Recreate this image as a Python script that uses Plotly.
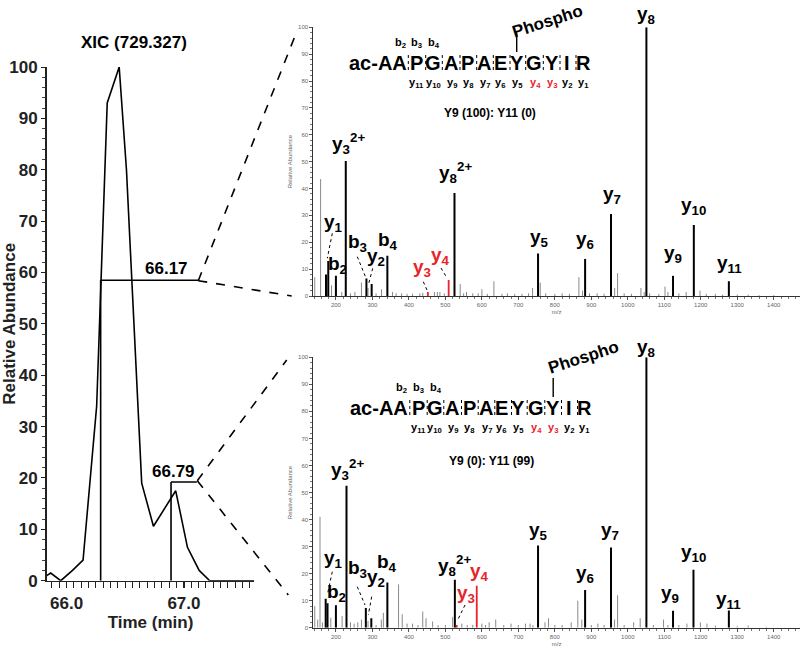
import plotly.graph_objects as go

W, H = 800, 648
FONT = "Liberation Sans, Arial, sans-serif"

# ---------------- data ----------------
xic_time = [65.83, 65.864, 65.95, 66.05, 66.14, 66.256, 66.346, 66.448, 66.51, 66.64, 66.74,
            66.835, 66.93, 67.03, 67.13, 67.22, 67.32, 67.42, 67.52, 67.60]
xic_abund = [1, 1.5, 0, 2, 4, 34, 93, 100, 80, 19, 10.6, 14, 17.5, 6.5, 2, 0, 0, 0, 0, 0]

rt1_time, rt1_level, rt1_end = 66.29, 58.5, 67.13
rt2_time, rt2_level, rt2_end = 66.89, 19.2, 67.11
rt1_label, rt2_label = "66.17", "66.79"

top_major_mz = [172.8, 179, 200, 227, 283.6, 298, 341, 525, 754, 883, 954, 1051, 1124, 1181, 1277]
top_major_val = [8, 13, 7.5, 50.2, 6.5, 4.5, 15, 38.3, 15.8, 13.8, 30.5, 100, 7.5, 26.4, 5.5]
top_red_mz = [452, 509]
top_red_val = [1.5, 6]
top_minor_mz = [142, 158, 188, 216, 240, 252, 270, 288, 310, 325, 355, 365, 380, 395, 410, 430,
                438, 470, 478, 485, 497, 540.6, 550, 558, 575, 590, 600, 615, 633, 655, 670, 690,
                710, 728, 739, 760, 775, 800, 820, 840, 866, 876, 895, 916, 935, 964, 972, 990,
                1010, 1036, 1045, 1060, 1085, 1102, 1110, 1140, 1160, 1198, 1215, 1240, 1260,
                1300, 1330, 1360, 1400]
top_minor_val = [7, 43.5, 4, 1.5, 1, 1.5, 5, 3, 1, 2.5, 1.5, 1, 1, 0.8, 0.8, 1,
                 1.2, 1.5, 1.5, 1.5, 1, 4.5, 1, 1.5, 1, 1, 2.5, 0.8, 5.5, 0.8, 1, 0.8,
                 0.8, 1, 3, 5, 1, 0.8, 1, 0.8, 7, 2, 1, 1, 0.8, 3, 8.5, 1,
                 0.8, 3, 1.5, 1, 0.8, 3.5, 1.5, 1, 1.5, 2, 0.8, 0.8, 0.5,
                 0.5, 0.5, 0.3, 0.3]

bot_major_mz = [172, 177, 200, 229, 282, 297, 341, 526, 754, 883, 954, 1051, 1124, 1180, 1277]
bot_major_val = [10.7, 9, 8.3, 52.5, 7.3, 3.5, 16.7, 17.7, 30.4, 13.9, 29.7, 100, 6.3, 21.4, 6.4]
bot_red_mz = [531, 586]
bot_red_val = [1, 15.5]
bot_minor_mz = [142, 150, 156.4, 163, 186, 217, 240, 250, 260, 270, 288, 310, 324.5, 330, 371.7,
                381.7, 395, 410, 425, 438, 447, 465, 480, 500, 520, 545, 560, 575, 600, 610, 620,
                638, 660, 680, 700, 719.5, 732, 740, 773, 782.6, 800, 820, 845, 863, 874, 900,
                918, 935, 963.7, 972, 990, 1016, 1034, 1070, 1098, 1110, 1140, 1162, 1199, 1217,
                1240, 1300, 1330, 1380]
bot_minor_val = [8, 3, 41, 2, 3.7, 4.3, 2, 1.5, 2, 3, 2.5, 1, 3, 5.5, 16,
                 5, 1.5, 1.5, 1, 6, 3.5, 2.3, 1, 1, 4, 1.5, 1, 1, 1.5, 1, 2,
                 3, 1, 1.5, 1, 1.5, 1.5, 1, 2, 3.5, 1, 1, 2, 10, 3, 1,
                 1.5, 1, 3, 12, 1, 2, 3.5, 1, 3, 1, 1, 1.5, 2, 1.5,
                 0.8, 0.5, 0.8, 0.3]

residues = ["ac-AA", "P", "G", "A", "P", "A", "E", "Y", "G", "Y", "I", "R"]
y_ions = ["11", "10", "9", "8", "7", "6", "5", "4", "3", "2", "1"]
red_y_ions = ["4", "3"]
b_ions = ["2", "3", "4"]
ratio_top = "Y9 (100): Y11 (0)"
ratio_bot = "Y9 (0): Y11 (99)"

# ---------------- helpers ----------------
def P(x, y):
    return x / W, 1 - y / H

def stems(mz, vals):
    xs, ys = [], []
    for m, v in zip(mz, vals):
        xs += [m, m, None]
        ys += [0, v, None]
    return xs, ys

fig = go.Figure()

# XIC
fig.add_trace(go.Scatter(x=xic_time, y=xic_abund, mode="lines",
                         line=dict(color="black", width=1.6), xaxis="x", yaxis="y",
                         showlegend=False, hoverinfo="skip"))

for (mz, vals, col, wd, ax) in [
    (top_minor_mz, top_minor_val, "#8a8a8a", 1.0, ("x2", "y2")),
    (top_major_mz, top_major_val, "black", 2.0, ("x2", "y2")),
    (top_red_mz, top_red_val, "#e8232a", 1.8, ("x2", "y2")),
    (bot_minor_mz, bot_minor_val, "#8a8a8a", 1.0, ("x3", "y3")),
    (bot_major_mz, bot_major_val, "black", 2.0, ("x3", "y3")),
    (bot_red_mz, bot_red_val, "#e8232a", 1.8, ("x3", "y3")),
]:
    xs, ys = stems(mz, vals)
    fig.add_trace(go.Scatter(x=xs, y=ys, mode="lines", line=dict(color=col, width=wd),
                             xaxis=ax[0], yaxis=ax[1], showlegend=False, hoverinfo="skip",
                             connectgaps=False))

shapes = []
# XIC retention markers (data coords)
for t, lev, end in [(rt1_time, rt1_level, rt1_end), (rt2_time, rt2_level, rt2_end)]:
    shapes.append(dict(type="line", xref="x", yref="y", x0=t, x1=t, y0=0, y1=lev,
                       line=dict(color="black", width=1.6)))
    shapes.append(dict(type="line", xref="x", yref="y", x0=t, x1=end, y0=lev, y1=lev,
                       line=dict(color="black", width=1.6)))

def pline(x0, y0, x1, y1, dash="solid", width=1.0, color="black"):
    a = P(x0, y0); b = P(x1, y1)
    shapes.append(dict(type="line", xref="paper", yref="paper", x0=a[0], y0=a[1],
                       x1=b[0], y1=b[1], line=dict(color=color, width=width, dash=dash)))

# zoom connectors
pline(198.3, 280.7, 296.7, 31.7, "dash", 1.6)
pline(198.3, 280.7, 291.7, 296, "dash", 1.6)
pline(197.3, 480.7, 286.7, 360, "dash", 1.6)
pline(197.3, 480.7, 288.3, 595, "dash", 1.6)

annotations = []

def txt(x, y, s, size=17, color="black", bold=True, angle=0, xanchor="center"):
    px, py = P(x, y)
    annotations.append(dict(x=px, y=py, xref="paper", yref="paper", text=("<b>%s</b>" % s) if bold else s,
                            showarrow=False, font=dict(family=FONT, size=size, color=color),
                            textangle=angle, xanchor=xanchor, yanchor="middle"))

# XIC texts
txt(133.5, 42.5, "XIC (729.327)", 17)
txt(166, 268, rt1_label, 17)
txt(173, 471, rt2_label, 17)

RED = "#e8232a"

def peptide(dx, ybase, phospho_idx, phospho_xy):
    res_x = [377.5, 416.7, 433.3, 450.7, 467.7, 484, 500, 516.7, 534.3, 551.7, 567.3, 583.3]
    for r, x in zip(residues, res_x):
        txt(x + dx, ybase, r, 20)
    sep_x = [408.3, 425.7, 442.3, 460, 476.7, 493.3, 510, 525.7, 543.3, 560, 576]
    for sx in sep_x:
        pline(sx + dx, ybase - 8, sx + dx, ybase + 9, "dot", 1.0)
    bx = [400, 416.7, 434]
    for b, x in zip(b_ions, bx):
        txt(x + dx, ybase - 20, "b<sub>%s</sub>" % b, 11)
    yx = [416.7, 433.3, 451.7, 468.3, 485, 500, 517.3, 535, 551.7, 567.3, 583.3]
    for yi, x in zip(y_ions, yx):
        col = RED if yi in red_y_ions else "black"
        txt(x + dx, ybase + 20, "y<sub>%s</sub>" % yi, 11, color=col)
    lx = res_x[phospho_idx] + dx
    pline(lx, ybase - 30, lx, ybase - 11, "solid", 1.4)
    txt(phospho_xy[0], phospho_xy[1], "Phospho", 17, angle=-18)

peptide(0, 63, 7, (547, 21))
peptide(1.5, 408, 9, (583, 357))
txt(490, 113, ratio_top, 12)
txt(491.7, 461, ratio_bot, 12)

def ion(x, y, name, sub, sup=None, color="black"):
    s = "%s<sub>%s</sub>" % (name, sub)
    if sup:
        s += "<sup>%s</sup>" % sup
    txt(x, y, s, 19, color=color)

# top labels
ion(646, 15, "y", "8")
ion(348, 143, "y", "3", "2+")
ion(456, 172, "y", "8", "2+")
ion(333, 223, "y", "1")
ion(337, 265, "b", "2")
ion(357, 243, "b", "3")
ion(376, 257, "y", "2")
ion(388, 241, "b", "4")
ion(422, 268, "y", "3", color=RED)
ion(440, 256, "y", "4", color=RED)
ion(539, 238, "y", "5")
ion(585, 240, "y", "6")
ion(612, 195, "y", "7")
ion(673, 254, "y", "9")
ion(693, 206, "y", "10")
ion(729, 264, "y", "11")
pline(332.3, 233.3, 327.3, 258.3, "dot", 1)
pline(357.3, 256.7, 365.7, 277.3, "dot", 1)
pline(372.7, 268.3, 368.3, 285, "dot", 1)
pline(423.3, 281.7, 427.7, 291.7, "dot", 1)
pline(441, 268, 447, 278, "dot", 1)

# bottom labels
ion(646, 348, "y", "8")
ion(347, 469, "y", "3", "2+")
ion(454, 565, "y", "8", "2+")
ion(333, 559, "y", "1")
ion(336, 593, "b", "2")
ion(357, 569, "b", "3")
ion(376, 578, "y", "2")
ion(387, 563, "b", "4")
ion(479, 572, "y", "4", color=RED)
ion(466, 594, "y", "3", color=RED)
ion(538, 531, "y", "5")
ion(585, 574, "y", "6")
ion(610, 531, "y", "7")
ion(670, 594, "y", "9")
ion(693, 553, "y", "10")
ion(728, 600, "y", "11")
pline(332.3, 571.7, 327.3, 595, "dot", 1)
pline(357.3, 586.7, 365, 605, "dot", 1)
pline(371.7, 596.7, 368.3, 615, "dot", 1)
pline(465, 605, 457.7, 620, "dot", 1)

bold17 = dict(family=FONT, size=17, color="#222", weight="bold")
small = dict(family=FONT, size=6, color="#666")

spec_x = dict(range=[138, 1472], showline=True, linecolor="#333", linewidth=1, ticks="outside",
              ticklen=3, tickcolor="#555", dtick=100, tick0=0, tickfont=small, showgrid=False,
              zeroline=False, automargin=False,
              minor=dict(dtick=20, ticklen=2, ticks="outside", tickcolor="#777"),
              title=dict(text="m/z", font=small, standoff=2))
spec_y = dict(range=[0, 100], showline=True, linecolor="#333", linewidth=1, ticks="outside",
              ticklen=3, tickcolor="#555", dtick=10, tickfont=small, showgrid=False, zeroline=False,
              automargin=False,
              minor=dict(dtick=2, ticklen=2, ticks="outside", tickcolor="#777"),
              title=dict(text="Relative Abundance", font=small, standoff=4))

fig.update_layout(
    template="none",
    width=W, height=H, autosize=False, margin=dict(l=0, r=0, t=0, b=0, pad=0),
    paper_bgcolor="white", plot_bgcolor="white", showlegend=False,
    xaxis=dict(domain=[46.7 / W, 254.3 / W], range=[65.83, 67.60], showline=True, linecolor="#222",
               linewidth=1.6, ticks="outside", ticklen=6, tickwidth=1.2, tickcolor="#222",
               tickvals=[66.0, 67.0], ticktext=["66.0", "67.0"], tickfont=bold17,
               minor=dict(tickvals=[65.8125 + 0.0625 * i for i in range(1, 29)], ticklen=6,
                          ticks="outside", tickcolor="#222", tickwidth=1),
               showgrid=False, zeroline=False, automargin=False,
               title=dict(text="Time (min)", font=bold17, standoff=4), anchor="y"),
    yaxis=dict(domain=[1 - 580.7 / H, 1 - 67 / H], range=[0, 100], showline=True, linecolor="#222",
               linewidth=1.6, ticks="outside", ticklen=4, tickcolor="#222", dtick=10,
               tickfont=bold17, showgrid=False, zeroline=False, automargin=False,
               minor=dict(dtick=2, ticklen=3, ticks="outside", tickcolor="#444"),
               title=dict(text="Relative Abundance", font=bold17, standoff=4), anchor="x"),
    xaxis2=dict(domain=[313.3 / W, 1.0], anchor="y2", **spec_x),
    yaxis2=dict(domain=[1 - 296 / H, 1 - 27.3 / H], anchor="x2", **spec_y),
    xaxis3=dict(domain=[313.3 / W, 1.0], anchor="y3", **spec_x),
    yaxis3=dict(domain=[1 - 627.7 / H, 1 - 357.3 / H], anchor="x3", **spec_y),
    shapes=shapes, annotations=annotations,
)

fig.write_html("out.html",
               config={"displayModeBar": False, "responsive": False, "staticPlot": True},
               post_script="document.body.style.margin='0';document.body.style.overflow='hidden';")
